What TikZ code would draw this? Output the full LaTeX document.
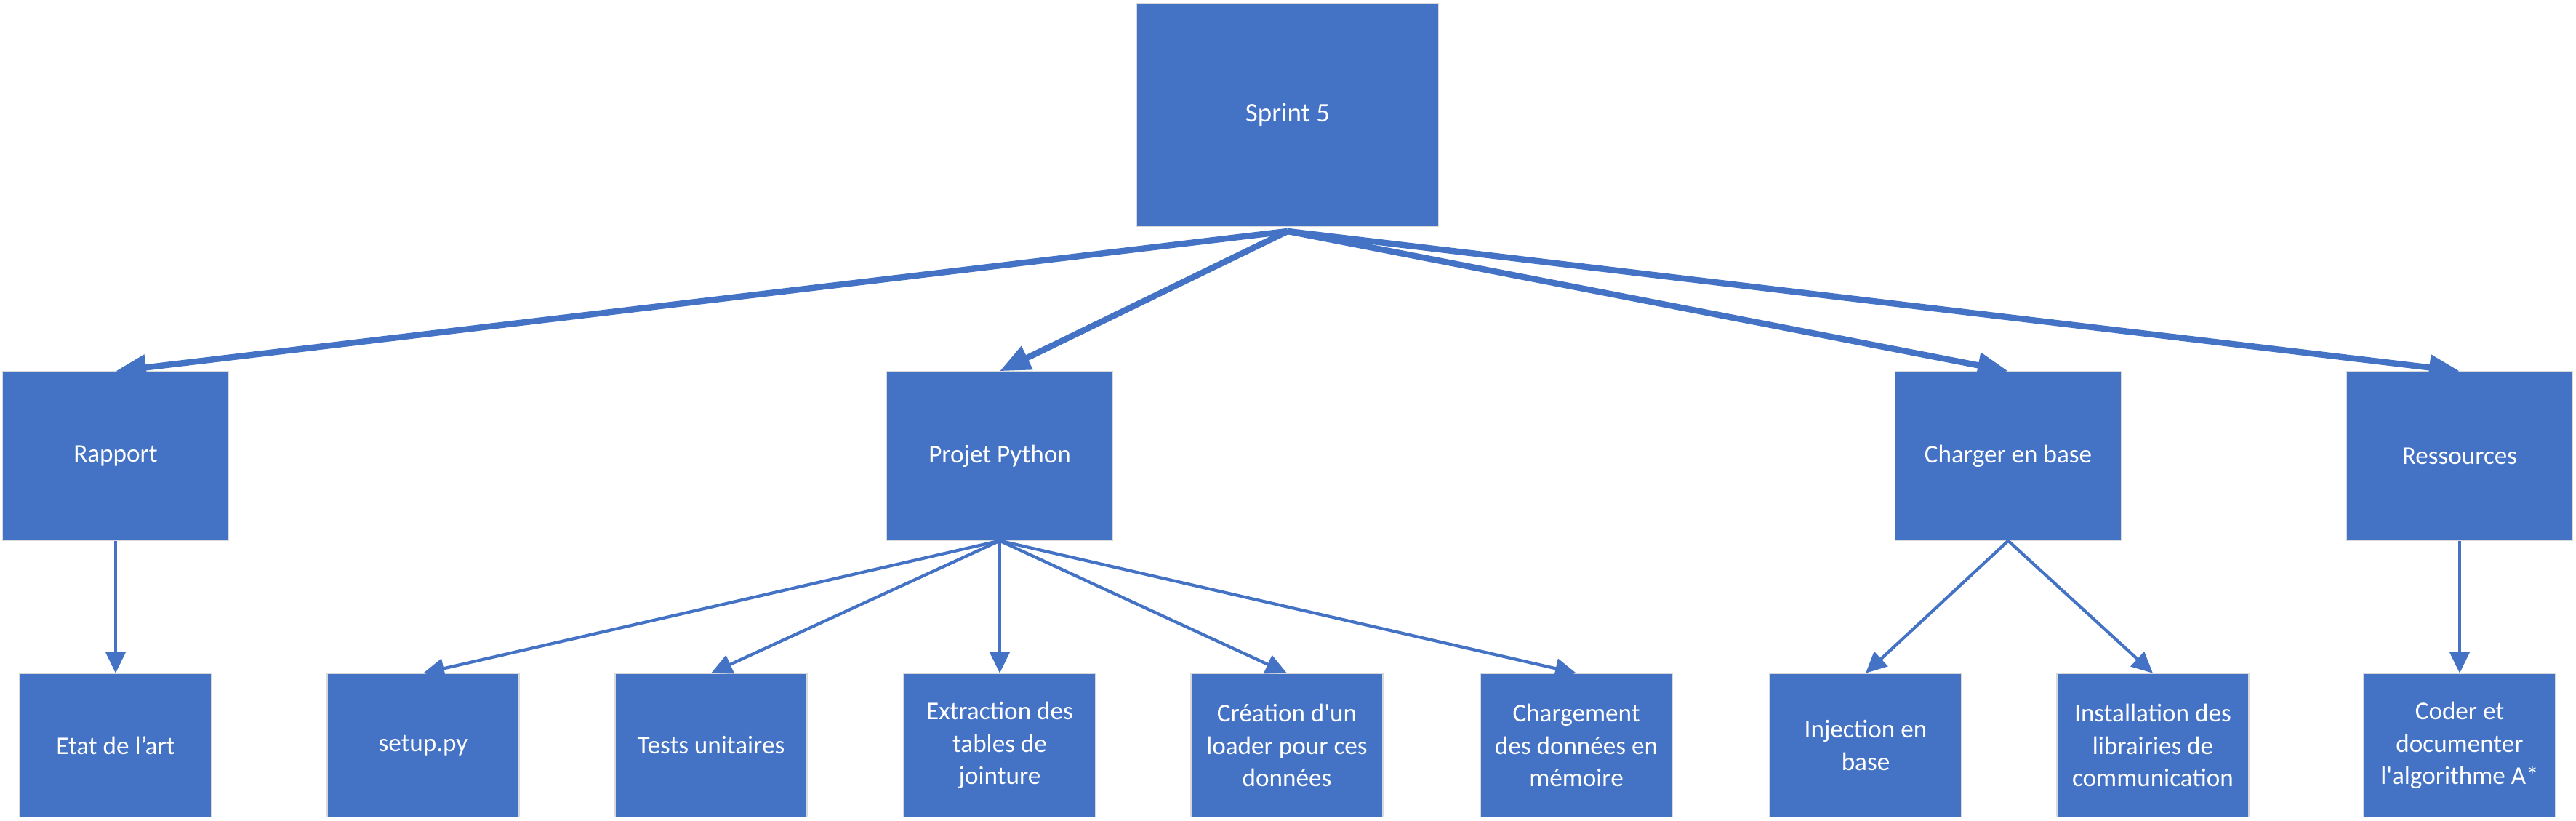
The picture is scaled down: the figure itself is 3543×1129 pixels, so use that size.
\documentclass[tikz,border=0pt]{standalone}
\usepackage{fontspec}
\setmainfont{Carlito}
\usetikzlibrary{arrows.meta}
\definecolor{officeblue}{HTML}{4472C4}
\tikzset{
  box/.style={rectangle, fill=officeblue, draw=white!70!gray, line width=0.4pt,
    text=white, align=center, inner sep=0pt,
    font=\fontsize{10}{12.7}\selectfont},
  topbox/.style={box, minimum width=4.15cm, minimum height=3.07cm,
    font=\fontsize{10.5}{12.7}\selectfont},
  midbox/.style={box, minimum width=3.11cm, minimum height=2.32cm},
  leafbox/.style={box, minimum width=2.64cm, minimum height=1.97cm},
  bigarrow/.style={draw=officeblue, line width=2.4pt,
    -{Triangle[length=0.42cm, width=0.34cm]}},
  smallarrow/.style={draw=officeblue, line width=1.2pt,
    -{Triangle[length=0.29cm, width=0.27cm]}}
}
\newcommand{\sq}{\textquotesingle}
\begin{document}
\begin{tikzpicture}[x=0.1mm,y=0.1mm]
\useasboundingbox (0,0) rectangle (3543,-1129);
% sprint
\node[topbox] (sprint) at (1771,-158) {Sprint 5};
% first level
\node[midbox] (rapport) at (159,-627) {Rapport};
\node[midbox] (projet) at (1375,-627) {Projet Python};
\node[midbox] (charger) at (2762,-627) {Charger en base};
\node[midbox] (ressources) at (3383,-627) {Ressources};
% second level
\node[leafbox] (etat) at (159,-1025) {Etat de l’art};
\node[leafbox] (setup) at (582,-1025) {setup.py};
\node[leafbox] (tests) at (978,-1025) {Tests unitaires};
\node[leafbox] (extraction) at (1375,-1025) {Extraction des\\tables de\\jointure};
\node[leafbox] (creation) at (1770,-1025) {Création d\sq un\\loader pour ces\\données};
\node[leafbox] (chargement) at (2168,-1025) {Chargement\\des données en\\mémoire};
\node[leafbox] (injection) at (2566,-1025) {Injection en\\base};
\node[leafbox] (installation) at (2961,-1025) {Installation des\\librairies de\\communication};
\node[leafbox] (coder) at (3383,-1025) {Coder et\\documenter\\l\sq algorithme A*};
\coordinate (s5) at (1771,-318);
% connectors
\foreach \t in {rapport,projet,charger,ressources}
  \draw[bigarrow] (s5) -- (\t.north);
\draw[smallarrow] (rapport.south) -- (etat.north);
\foreach \t in {setup,tests,extraction,creation,chargement}
  \draw[smallarrow] (projet.south) -- (\t.north);
\foreach \t in {injection,installation}
  \draw[smallarrow] (charger.south) -- (\t.north);
\draw[smallarrow] (ressources.south) -- (coder.north);
\end{tikzpicture}
\end{document}
